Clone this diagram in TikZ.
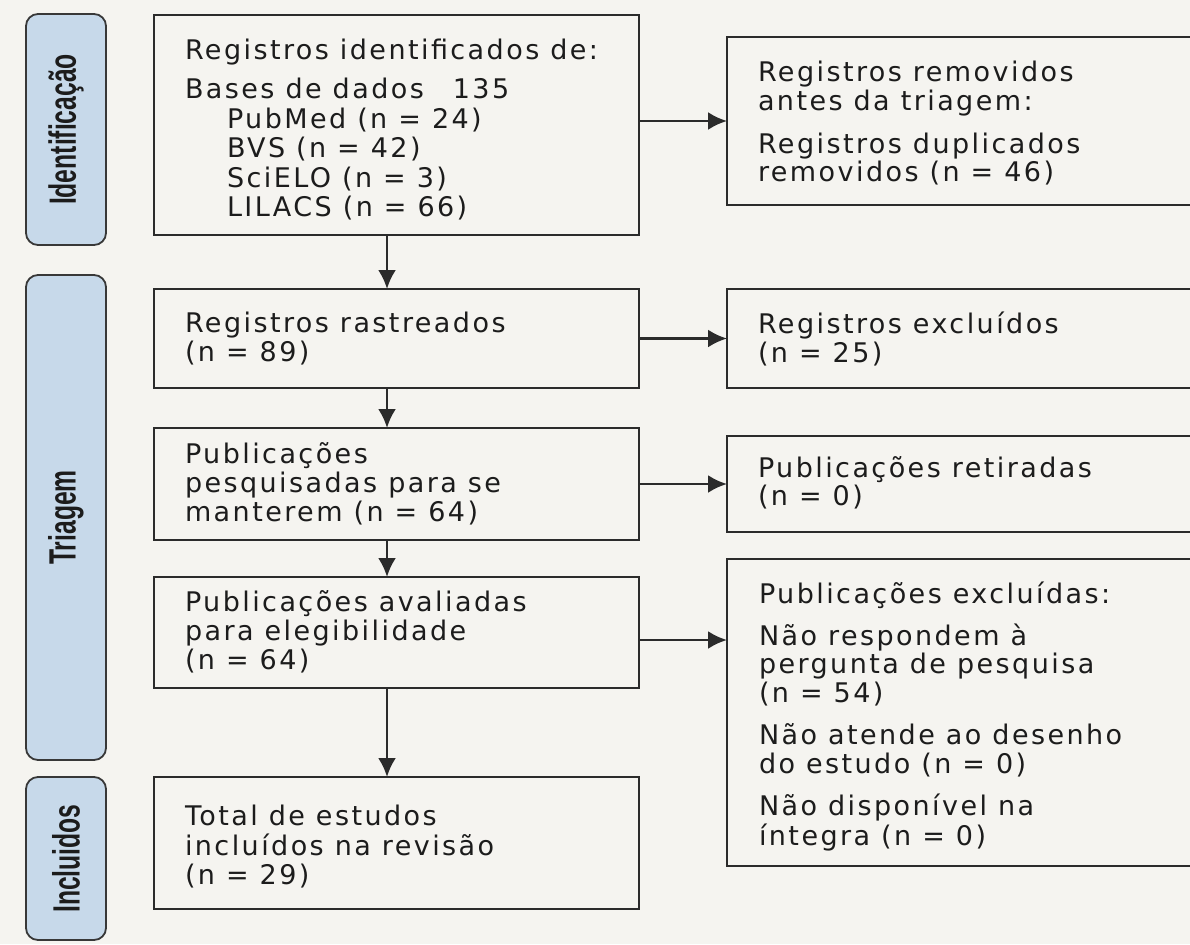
\documentclass[tikz,border=0pt]{standalone}
\usepackage{fontspec}
\usetikzlibrary{arrows.meta}
\newfontfamily\bodyfont{DejaVu Sans}[LetterSpace=9]
\newfontfamily\labelfont{Liberation Sans}
\definecolor{bgc}{HTML}{F5F4F0}
\definecolor{linec}{HTML}{2B2B2B}
\definecolor{sidefill}{HTML}{C7D9EA}
\definecolor{sidec}{HTML}{383838}
\definecolor{textc}{HTML}{1C1C1C}
\newcommand\txtlines[2]{\fontsize{27}{#1}\selectfont\begin{tabular}[t]{@{}l@{}}#2\end{tabular}}
\newcommand\sidetext[1]{\rotatebox{90}{\scalebox{0.65}[1]{#1}}}
\begin{document}
\begin{tikzpicture}[x=1pt,y=-1pt,
  boxnode/.style={draw=linec, line width=1.8pt, inner sep=0pt, outer sep=0pt, anchor=north west},
  sidelabel/.style={draw=sidec, line width=1.8pt, fill=sidefill, rounded corners=12pt, inner sep=0pt,
    outer sep=0pt, minimum width=80pt, anchor=north west, text=textc,
    font=\labelfont\bfseries\fontsize{38}{40}\selectfont},
  txt/.style={anchor=base west, inner sep=0pt, outer sep=0pt, text=textc, font=\bodyfont},
  flow/.style={draw=linec, line width=2.8pt, -{Latex[length=19pt,width=18pt]}}]
\useasboundingbox (0,0) rectangle (1190,944);
\clip (0,0) rectangle (1190,944);
\fill[bgc] (0,0) rectangle (1190,944);

% side labels
\node[sidelabel, minimum height=231pt] (s1) at (26,14) {\sidetext{Identificação}};
\node[sidelabel, minimum height=485pt] (s2) at (26,275) {\sidetext{Triagem}};
\node[sidelabel, minimum height=163pt] (s3) at (26,777) {\sidetext{Incluidos}};

% left boxes
\node[boxnode, minimum width=485pt, minimum height=220pt] (l1) at (154,15) {};
\node[boxnode, minimum width=485pt, minimum height=99pt] (l2) at (154,289) {};
\node[boxnode, minimum width=485pt, minimum height=112pt] (l3) at (154,428) {};
\node[boxnode, minimum width=485pt, minimum height=111pt] (l4) at (154,577) {};
\node[boxnode, minimum width=485pt, minimum height=132pt] (l5) at (154,777) {};

% right boxes
\node[boxnode, minimum width=480pt, minimum height=168pt] (r1) at (727,37) {};
\node[boxnode, minimum width=480pt, minimum height=99pt] (r2) at (727,289) {};
\node[boxnode, minimum width=480pt, minimum height=96pt] (r3) at (727,436) {};
\node[boxnode, minimum width=480pt, minimum height=307pt] (r4) at (727,559) {};

% texts
\node[txt] (t1) at (185,60) {\txtlines{29.5pt}{Registros identificados de:\\[9.5pt]
  Bases de dados\hspace{18pt} 135\\
  \hspace*{42pt}PubMed (n = 24)\\
  \hspace*{42pt}BVS (n = 42)\\
  \hspace*{42pt}SciELO (n = 3)\\
  \hspace*{42pt}LILACS (n = 66)}};
\node[txt] (t2) at (185,332) {\txtlines{29pt}{Registros rastreados\\(n = 89)}};
\node[txt] (t3) at (185,463) {\txtlines{29pt}{Publicações\\pesquisadas para se\\manterem (n = 64)}};
\node[txt] (t4) at (185,611) {\txtlines{29pt}{Publicações avaliadas\\para elegibilidade\\(n = 64)}};
\node[txt] (t5) at (185,825) {\txtlines{28.5pt}{Total de estudos\\incluídos na revisão\\(n = 29)}};

\node[txt] (u1) at (758,82) {\txtlines{27pt}{Registros removidos\\antes da triagem:\\[14pt]
  Registros duplicados\\removidos (n = 46)}};
\node[txt] (u2) at (758,333) {\txtlines{29pt}{Registros excluídos\\(n = 25)}};
\node[txt] (u3) at (758,477) {\txtlines{28pt}{Publicações retiradas\\(n = 0)}};
\node[txt] (u4) at (759,603) {\txtlines{28pt}{Publicações excluídas:\\[12pt]
  Não respondem à\\pergunta de pesquisa\\(n = 54)\\[12pt]
  Não atende ao desenho\\do estudo (n = 0)\\[12pt]
  Não disponível na\\íntegra (n = 0)}};

% horizontal connectors
\draw[flow] (l1.east |- r1.west) -- (r1.west);
\draw[flow] (l2.east) -- (r2.west);
\draw[flow] (l3.east) -- (r3.west);
\coordinate (a4) at ([yshift=-7.5pt]l4.east);
\draw[flow] (a4) -- (a4 -| r4.west);

% vertical connectors
\coordinate (v1) at ([xshift=-9.5pt]l1.south);
\coordinate (v2) at ([xshift=-9.5pt]l2.south);
\coordinate (v3) at ([xshift=-9.5pt]l3.south);
\coordinate (v4) at ([xshift=-9.5pt]l4.south);
\draw[flow] (v1) -- (v1 |- l2.north);
\draw[flow] (v2) -- (v2 |- l3.north);
\draw[flow] (v3) -- (v3 |- l4.north);
\draw[flow] (v4) -- (v4 |- l5.north);
\end{tikzpicture}
\end{document}
